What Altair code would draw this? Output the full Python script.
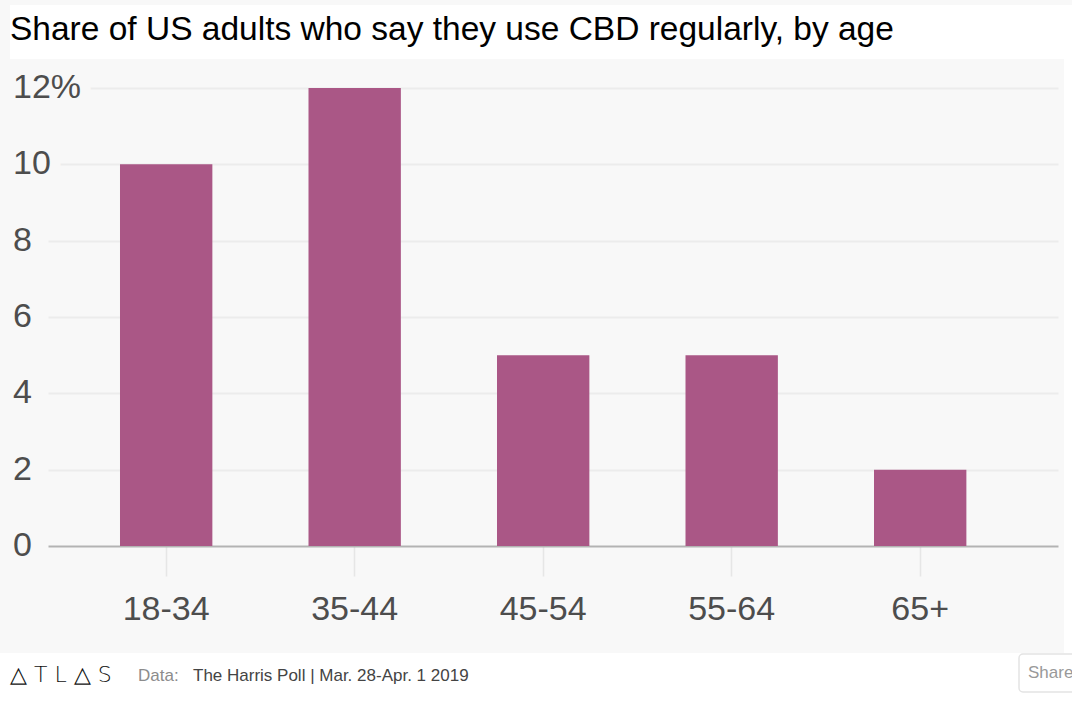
import altair as alt
import pandas as pd

# Survey results: share of adults using CBD regularly, by age group (%)
age_groups = ["18-34", "35-44", "45-54", "55-64", "65+"]
share_pct = [10, 12, 5, 5, 2]

# Value axis ticks and their labels
y_ticks = [0, 2, 4, 6, 8, 10, 12]
y_tick_labels = ["0", "2", "4", "6", "8", "10", "12%"]
grid_values = [2, 4, 6, 8, 10, 12]

title_text = "Share of US adults who say they use CBD regularly, by age"
brand_text = "△ T L △ S"
source_label = "Data:"
source_text = "The Harris Poll | Mar. 28-Apr. 1 2019"
share_text = "Share"

W, H = 1010, 458
PANEL = "#f8f8f8"
BAR = "#AA5786"
FONT = "Liberation Sans"
LABEL = "#4d4d4d"

bars_df = pd.DataFrame({"age": age_groups, "share": share_pct})
ticks_df = pd.DataFrame({"value": y_ticks, "label": y_tick_labels})
blank = alt.Data(values=[{}])

y_scale = alt.Scale(domain=[0, 12], nice=False)
y_axis = alt.Axis(
    title=None, grid=True, values=grid_values, gridColor="#ececec",
    gridWidth=2, labels=False, ticks=False, domain=False,
)
x_axis = alt.Axis(
    title=None, labelAngle=0, labelFont=FONT, labelFontSize=34,
    labelColor=LABEL, labelBaseline="middle", labelPadding=33,
    tickSize=30, tickColor="#e6e6e6", tickWidth=1.5,
    domainColor="#b3b3b3", domainWidth=2, grid=False,
)

bars = alt.Chart(bars_df).mark_bar(color=BAR).encode(
    x=alt.X("age:N", sort=age_groups, axis=x_axis,
            scale=alt.Scale(paddingInner=0.51, paddingOuter=0.434, align=0.44)),
    y=alt.Y("share:Q", scale=y_scale, axis=y_axis),
)

# White bands around the grey panel: title strip, right edge, footer
title_band = alt.Chart(blank).mark_rect(color="white").encode(
    x=alt.value(-38), x2=alt.value(1024), y=alt.value(-83), y2=alt.value(-29)
)
right_band = alt.Chart(blank).mark_rect(color="white").encode(
    x=alt.value(1016), x2=alt.value(1024), y=alt.value(-29), y2=alt.value(565)
)
footer_band = alt.Chart(blank).mark_rect(color="white").encode(
    x=alt.value(-48), x2=alt.value(1024), y=alt.value(565), y2=alt.value(615)
)

# Y labels sit on a halo so the gridlines start just after each label
label_halo = alt.Chart(ticks_df).mark_text(
    align="left", baseline="middle", font=FONT, fontSize=34,
    fill=PANEL, stroke=PANEL, strokeWidth=22, strokeJoin="round",
).encode(
    x=alt.value(-35),
    y=alt.Y("value:Q", scale=y_scale, axis=y_axis),
    text="label:N",
)
labels = alt.Chart(ticks_df).mark_text(
    align="left", baseline="middle", font=FONT, fontSize=34, color=LABEL,
).encode(
    x=alt.value(-35),
    y=alt.Y("value:Q", scale=y_scale, axis=y_axis),
    text="label:N",
)

brand = alt.Chart(blank).mark_text(
    align="left", baseline="alphabetic", font="DejaVu Sans", fontSize=22,
    fontWeight=200, color="#111111", text=brand_text,
).encode(x=alt.value(-38), y=alt.value(594))
source_lbl = alt.Chart(blank).mark_text(
    align="left", baseline="alphabetic", font=FONT, fontSize=17,
    color="#8c8c8c", text=source_label,
).encode(x=alt.value(90), y=alt.value(593))
source = alt.Chart(blank).mark_text(
    align="left", baseline="alphabetic", font=FONT, fontSize=17,
    color="#444444", text=source_text,
).encode(x=alt.value(145), y=alt.value(593))
share_box = alt.Chart(blank).mark_rect(
    fill="white", stroke="#e3e3e3", strokeWidth=1.5, cornerRadius=4,
).encode(x=alt.value(971), x2=alt.value(1040), y=alt.value(566), y2=alt.value(604))
share_lbl = alt.Chart(blank).mark_text(
    align="left", baseline="middle", font=FONT, fontSize=17,
    color="#999999", text=share_text,
).encode(x=alt.value(980), y=alt.value(585))

chart = alt.layer(
    bars, title_band, right_band, footer_band, label_halo, labels,
    brand, source_lbl, source, share_box, share_lbl,
).properties(
    width=W, height=H,
    autosize=alt.AutoSizeParams(type="none"),
    padding={"left": 48, "top": 88, "right": 14, "bottom": 157},
    background=PANEL,
    title=alt.TitleParams(
        text=title_text, anchor="start", frame="group", font=FONT,
        fontSize=33.5, fontWeight="normal", color="black",
        baseline="alphabetic", offset=0, dx=-38, dy=68,
    ),
).configure_view(stroke=None, fill=None)

chart.save("out.html", embed_options={"renderer": "svg", "actions": False})
